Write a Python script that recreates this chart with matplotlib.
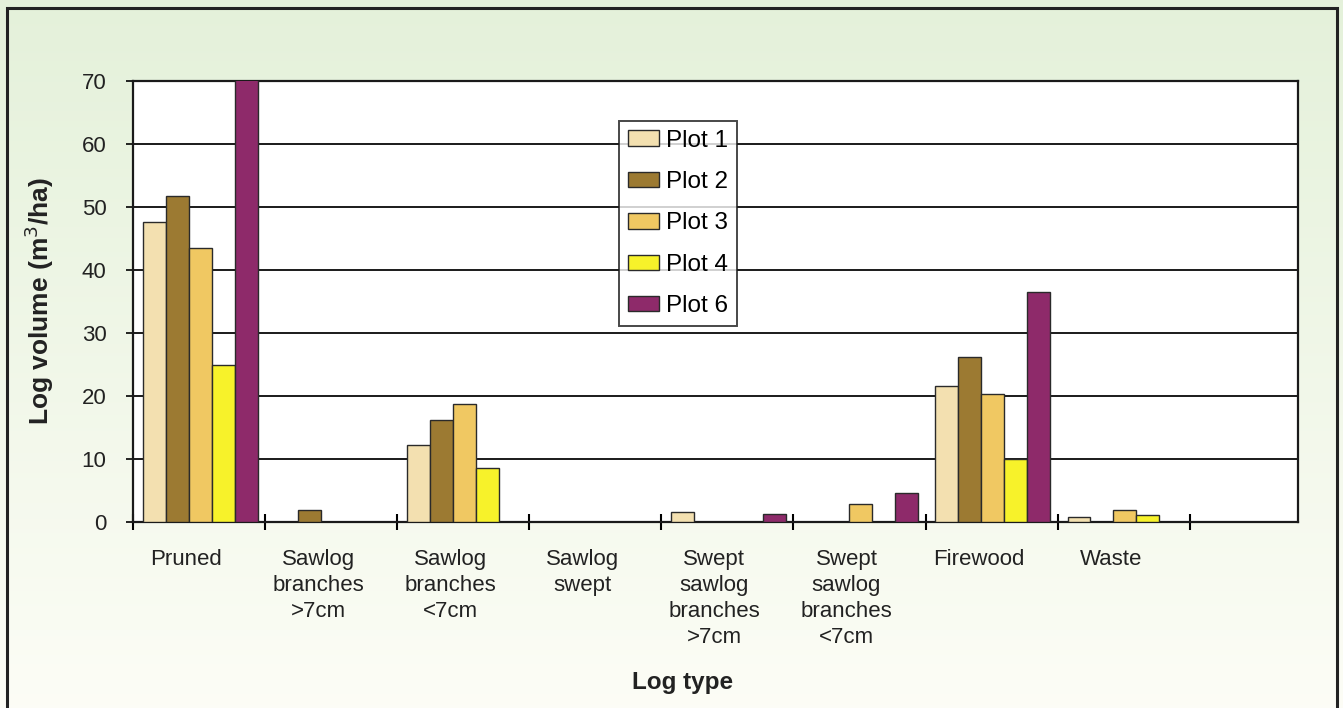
import matplotlib
matplotlib.use("Agg")
import matplotlib.pyplot as plt
import numpy as np
from matplotlib.patches import Rectangle
import matplotlib.transforms as mtransforms

plt.rcParams['font.family'] = ['Liberation Sans', 'DejaVu Sans']

categories = ["Pruned", "Sawlog\nbranches\n>7cm", "Sawlog\nbranches\n<7cm", "Sawlog\nswept",
              "Swept\nsawlog\nbranches\n>7cm", "Swept\nsawlog\nbranches\n<7cm", "Firewood", "Waste", ""]
series_names = ["Plot 1", "Plot 2", "Plot 3", "Plot 4", "Plot 6"]
plot1 = [47.5, 0, 12.1, 0, 1.6, 0, 21.5, 0.7, 0]
plot2 = [51.7, 1.9, 16.2, 0, 0, 0, 26.1, 0, 0]
plot3 = [43.5, 0, 18.7, 0, 0, 2.8, 20.3, 1.9, 0]
plot4 = [24.9, 0, 8.6, 0, 0, 0, 9.9, 1.1, 0]
plot6 = [70.5, 0, 0, 0, 1.2, 4.5, 36.4, 0, 0]
yticks = [0, 10, 20, 30, 40, 50, 60, 70]
colors = ["#f3e0b0", "#9c7a32", "#f0c862", "#f7f22a", "#8e2a6a"]

W, H = 1343, 708
fig = plt.figure(figsize=(W / 100, H / 100), dpi=100)

# background gradient
bg = fig.add_axes([0, 0, 1, 1], zorder=-10)
grad = np.linspace(0, 1, 256).reshape(-1, 1)
top = np.array([0.895, 0.945, 0.855])
bot = np.array([0.990, 0.992, 0.965])
img = top[None, None, :] * (1 - grad[:, :, None]) + bot[None, None, :] * grad[:, :, None]
bg.imshow(img, aspect='auto', extent=[0, 1, 0, 1])
bg.set_xlim(0, 1); bg.set_ylim(0, 1)
bg.axis('off')
bg.add_patch(Rectangle((7 / W, -0.02), (1337 - 7) / W, 1.02 - 8 / H,
                       fill=False, edgecolor='#222222', linewidth=2.2))

ax = fig.add_axes([133 / W, 1 - 521.7 / H, (1298 - 133) / W, (521.7 - 80.7) / H])
ax.set_facecolor('white')

data = [plot1, plot2, plot3, plot4, plot6]
x = np.arange(len(categories))
bw = 0.174
for i, (vals, c, name) in enumerate(zip(data, colors, series_names)):
    v = np.array(vals, dtype=float)
    v = np.where(v > 0, v, np.nan)
    ax.bar(x + (i - 2) * bw + 0.01, v, width=bw, color=c, edgecolor='#2a2a2a',
           linewidth=1.0, label=name, zorder=3)

ax.set_xlim(-0.5, 8.32)
ax.set_ylim(0, 70)
ax.set_yticks(yticks)
ax.set_yticklabels([str(v) for v in yticks], fontsize=16, color='#222222')
ax.tick_params(axis='y', direction='out', length=5, width=1.2, pad=14)
for v in yticks[1:-1]:
    ax.axhline(v, color='#1a1a1a', linewidth=1.4, zorder=1)

ax.set_xticks(x[:-1])
ax.set_xticklabels(categories[:-1], fontsize=16, color='#222222', linespacing=1.3, va='top')
ax.tick_params(axis='x', which='major', length=0, pad=20)
ax.set_xticks(np.arange(-0.5, 8.0, 1.0), minor=True)
ax.tick_params(axis='x', which='minor', direction='inout', length=12, width=1.5)
offset = mtransforms.ScaledTranslation(-13 / 100, 0, fig.dpi_scale_trans)
for lab in ax.get_xticklabels():
    lab.set_transform(lab.get_transform() + offset)

for s in ax.spines.values():
    s.set_color('#1a1a1a')
    s.set_linewidth(1.6)

ax.set_ylabel("Log volume (m$^3$/ha)", fontsize=19, fontweight='bold', color='#222222')
ax.yaxis.set_label_coords(-0.066, 0.5)
fig.text(683 / W, 1 - 683 / H, "Log type", fontsize=17.5, fontweight='bold',
         color='#222222', ha='center', va='center')

leg = ax.legend(loc='upper left', bbox_to_anchor=((619 - 133) / 1165, (521.7 - 121) / 441),
                fontsize=17.5, frameon=True, fancybox=False, edgecolor='#1a1a1a',
                handlelength=1.3, handleheight=0.6, handletextpad=0.3,
                labelspacing=0.80, borderpad=0.35, borderaxespad=0)
leg.get_frame().set_linewidth(1.4)
leg.set_zorder(5)

fig.savefig("out.png", dpi=100)
